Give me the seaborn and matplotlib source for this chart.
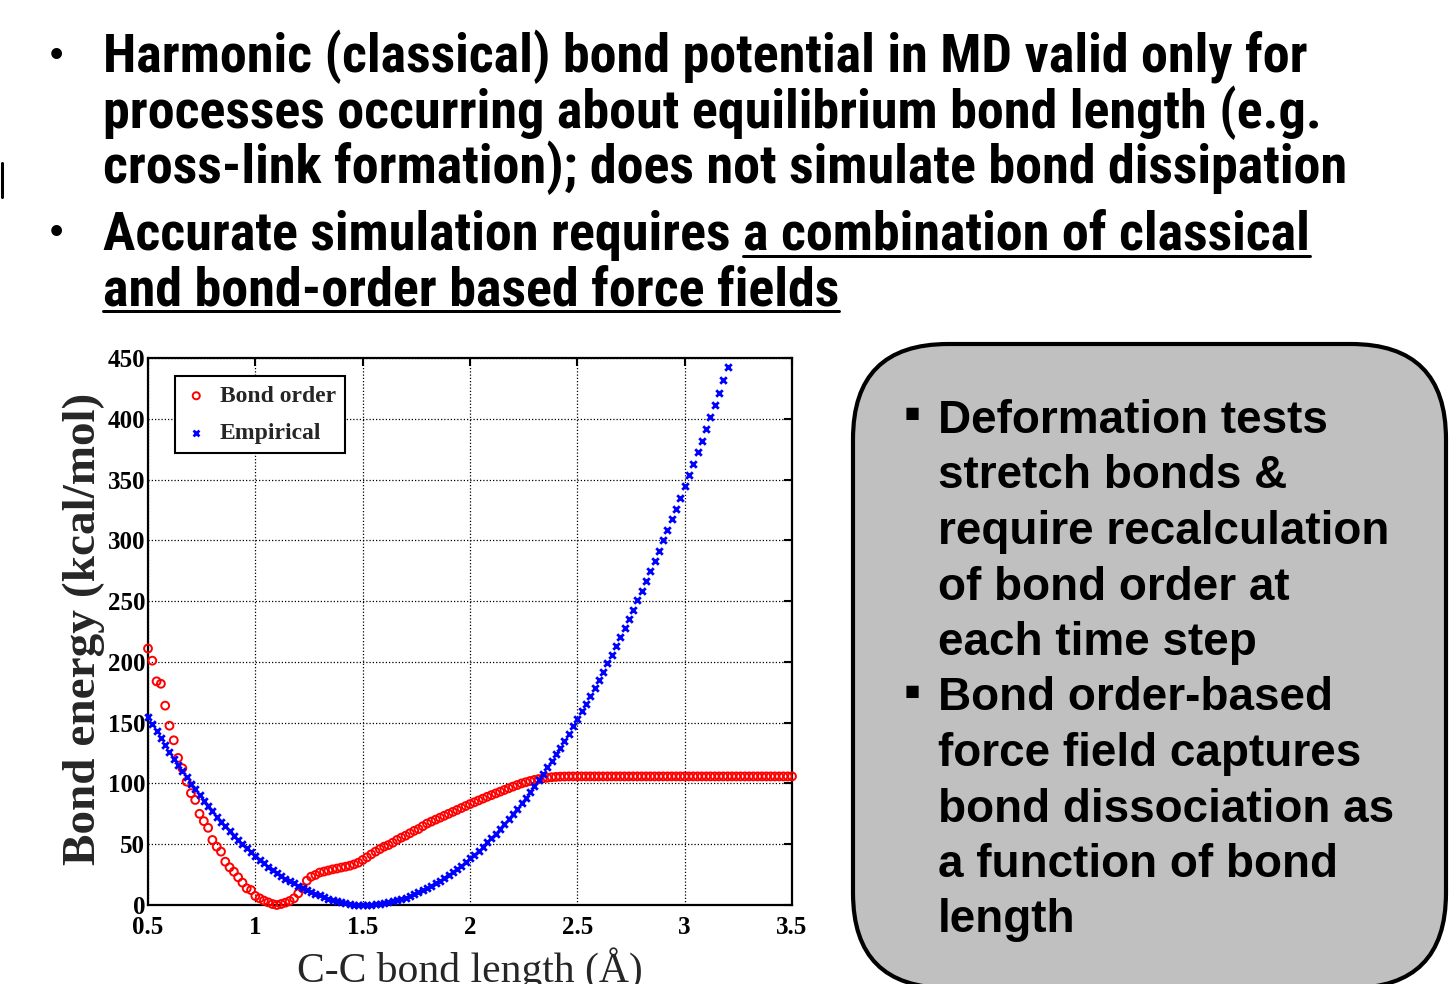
import numpy as np
import pandas as pd
import seaborn as sns
import matplotlib
matplotlib.use("Agg")
import matplotlib.pyplot as plt
from matplotlib import font_manager as fm
from matplotlib.patches import FancyBboxPatch
from matplotlib.lines import Line2D

# ---------------------------------------------------------------------------
# C-C bond energy versus bond length: bond-order (ReaxFF-type) vs harmonic fit
# ---------------------------------------------------------------------------
bond_length_reax = [
    0.50, 0.52, 0.54, 0.56, 0.58, 0.60, 0.62, 0.64, 0.66, 0.68,
    0.70, 0.72, 0.74, 0.76, 0.78, 0.80, 0.82, 0.84, 0.86, 0.88,
    0.90, 0.92, 0.94, 0.96, 0.98, 1.00, 1.02, 1.04, 1.06, 1.08,
    1.10, 1.12, 1.14, 1.16, 1.18, 1.20, 1.22, 1.24, 1.26, 1.28,
    1.30, 1.32, 1.34, 1.36, 1.38, 1.40, 1.42, 1.44, 1.46, 1.48,
    1.50, 1.52, 1.54, 1.56, 1.58, 1.60, 1.62, 1.64, 1.66, 1.68,
    1.70, 1.72, 1.74, 1.76, 1.78, 1.80, 1.82, 1.84, 1.86, 1.88,
    1.90, 1.92, 1.94, 1.96, 1.98, 2.00, 2.02, 2.04, 2.06, 2.08,
    2.10, 2.12, 2.14, 2.16, 2.18, 2.20, 2.22, 2.24, 2.26, 2.28,
    2.30, 2.32, 2.34, 2.36, 2.38, 2.40, 2.42, 2.44, 2.46, 2.48,
    2.50, 2.52, 2.54, 2.56, 2.58, 2.60, 2.62, 2.64, 2.66, 2.68,
    2.70, 2.72, 2.74, 2.76, 2.78, 2.80, 2.82, 2.84, 2.86, 2.88,
    2.90, 2.92, 2.94, 2.96, 2.98, 3.00, 3.02, 3.04, 3.06, 3.08,
    3.10, 3.12, 3.14, 3.16, 3.18, 3.20, 3.22, 3.24, 3.26, 3.28,
    3.30, 3.32, 3.34, 3.36, 3.38, 3.40, 3.42, 3.44, 3.46, 3.48,
    3.50,
]
energy_reax = [
    211.0, 201.0, 184.0, 182.0, 164.0, 147.5, 135.5, 121.0, 112.5, 101.5,
    92.0, 86.4, 75.0, 69.0, 63.5, 53.5, 48.0, 43.9, 35.6, 31.0,
    27.4, 22.8, 18.4, 13.7, 12.3, 7.4, 5.5, 3.6, 2.2, 0.8,
    0.0, 0.8, 1.9, 3.3, 5.5, 9.6, 13.7, 20.0, 23.3, 24.7,
    26.7, 27.5, 28.4, 29.3, 30.0, 30.8, 31.5, 32.3, 33.4, 34.8,
    37.0, 39.2, 41.7, 43.9, 46.0, 48.0, 49.3, 51.2, 53.5, 55.4,
    57.0, 59.0, 61.0, 62.5, 64.8, 67.0, 68.6, 70.2, 71.8, 73.4,
    75.0, 76.6, 78.2, 79.8, 81.4, 83.0, 84.5, 86.0, 87.5, 89.0,
    90.4, 91.8, 93.2, 94.6, 96.0, 97.4, 98.7, 100.0, 101.0, 102.0,
    102.9, 103.6, 104.2, 104.7, 105.1, 105.4, 105.6, 105.7, 105.8, 105.8,
    105.8, 105.8, 105.8, 105.8, 105.8, 105.8, 105.8, 105.8, 105.8, 105.8,
    105.8, 105.8, 105.8, 105.8, 105.8, 105.8, 105.8, 105.8, 105.8, 105.8,
    105.8, 105.8, 105.8, 105.8, 105.8, 105.8, 105.8, 105.8, 105.8, 105.8,
    105.8, 105.8, 105.8, 105.8, 105.8, 105.8, 105.8, 105.8, 105.8, 105.8,
    105.8, 105.8, 105.8, 105.8, 105.8, 105.8, 105.8, 105.8, 105.8, 105.8,
    105.8,
]

bond_length_harm = [
    0.50, 0.52, 0.54, 0.56, 0.58, 0.60, 0.62, 0.64, 0.66, 0.68,
    0.70, 0.72, 0.74, 0.76, 0.78, 0.80, 0.82, 0.84, 0.86, 0.88,
    0.90, 0.92, 0.94, 0.96, 0.98, 1.00, 1.02, 1.04, 1.06, 1.08,
    1.10, 1.12, 1.14, 1.16, 1.18, 1.20, 1.22, 1.24, 1.26, 1.28,
    1.30, 1.32, 1.34, 1.36, 1.38, 1.40, 1.42, 1.44, 1.46, 1.48,
    1.50, 1.52, 1.54, 1.56, 1.58, 1.60, 1.62, 1.64, 1.66, 1.68,
    1.70, 1.72, 1.74, 1.76, 1.78, 1.80, 1.82, 1.84, 1.86, 1.88,
    1.90, 1.92, 1.94, 1.96, 1.98, 2.00, 2.02, 2.04, 2.06, 2.08,
    2.10, 2.12, 2.14, 2.16, 2.18, 2.20, 2.22, 2.24, 2.26, 2.28,
    2.30, 2.32, 2.34, 2.36, 2.38, 2.40, 2.42, 2.44, 2.46, 2.48,
    2.50, 2.52, 2.54, 2.56, 2.58, 2.60, 2.62, 2.64, 2.66, 2.68,
    2.70, 2.72, 2.74, 2.76, 2.78, 2.80, 2.82, 2.84, 2.86, 2.88,
    2.90, 2.92, 2.94, 2.96, 2.98, 3.00, 3.02, 3.04, 3.06, 3.08,
    3.10, 3.12, 3.14, 3.16, 3.18, 3.20,
]
energy_harm = [
    155.0, 148.9, 143.0, 137.2, 131.5, 125.9, 120.5, 115.2, 110.0, 104.9,
    99.9, 95.1, 90.4, 85.8, 81.3, 77.0, 72.7, 68.6, 64.7, 60.8,
    57.1, 53.5, 50.0, 46.6, 43.4, 40.3, 37.3, 34.4, 31.6, 29.0,
    26.5, 24.1, 21.8, 19.7, 17.7, 15.8, 14.0, 12.3, 10.8, 9.4,
    7.9, 6.6, 5.3, 4.1, 3.1, 2.2, 1.4, 0.8, 0.3, 0.1,
    0.0, 0.1, 0.2, 0.6, 1.0, 1.5, 2.2, 3.0, 3.9, 5.0,
    6.1, 7.4, 8.8, 10.3, 12.0, 13.8, 15.7, 17.7, 19.8, 22.1,
    24.5, 27.0, 29.6, 32.4, 35.3, 38.3, 41.4, 44.6, 48.0, 51.5,
    55.1, 58.8, 62.7, 66.6, 70.7, 75.0, 79.3, 83.8, 88.4, 93.1,
    97.9, 102.9, 108.0, 113.2, 118.5, 123.9, 129.5, 135.2, 141.0, 146.9,
    153.0, 159.2, 165.5, 171.9, 178.5, 185.1, 191.9, 198.8, 205.9, 213.0,
    220.3, 227.7, 235.3, 242.9, 250.7, 258.6, 266.6, 274.7, 283.0, 291.4,
    299.9, 308.5, 317.3, 326.1, 335.1, 344.3, 353.5, 362.9, 372.3, 382.0,
    391.7, 401.5, 411.5, 421.6, 431.8, 442.2,
]

series_labels = ["Bond order", "Empirical"]
x_ticks = [0.5, 1.0, 1.5, 2.0, 2.5, 3.0, 3.5]
x_tick_labels = ["0.5", "1", "1.5", "2", "2.5", "3", "3.5"]
y_ticks = [0, 50, 100, 150, 200, 250, 300, 350, 400, 450]
y_tick_labels = ["0", "50", "100", "150", "200", "250", "300", "350", "400", "450"]

heading_lines = [
    "Harmonic (classical) bond potential in MD valid only for",
    "processes occurring about equilibrium bond length (e.g.",
    "cross-link formation); does not simulate bond dissipation",
]
heading2_plain = "Accurate simulation requires"
heading2_under = "a combination of classical"
heading2_line2 = "and bond-order based force fields"

box_lines = [
    "Deformation tests",
    "stretch bonds &",
    "require recalculation",
    "of bond order at",
    "each time step",
    "Bond order-based",
    "force field captures",
    "bond dissociation as",
    "a function of bond",
    "length",
]

# ---------------------------------------------------------------------------
sns.set_theme(style="white")
plt.rcParams["font.family"] = ["Liberation Serif", "DejaVu Serif"]

W, H = 1449, 984
fig = plt.figure(figsize=(W / 100, H / 100), dpi=100)
fig.patch.set_facecolor("white")


def fx(px):
    return px / W


def fy(py):
    return 1 - py / H


ax = fig.add_axes([fx(148), fy(905), (792 - 148) / W, (905 - 358) / H])

df_reax = pd.DataFrame({"r": bond_length_reax, "E": energy_reax})
df_harm = pd.DataFrame({"r": bond_length_harm, "E": energy_harm})

sns.scatterplot(data=df_reax, x="r", y="E", ax=ax, marker="o",
                facecolors="none", edgecolor="#ff0000", linewidth=1.4,
                s=32, label=series_labels[0], clip_on=False, zorder=3)
sns.scatterplot(data=df_harm, x="r", y="E", ax=ax, marker="x",
                color="#0000ff", linewidth=2.0, s=22,
                label=series_labels[1], clip_on=False, zorder=4)

ax.set_xlim(0.5, 3.5)
ax.set_ylim(0, 450)
ax.set_xticks(x_ticks)
ax.set_xticklabels(x_tick_labels)
ax.set_yticks(y_ticks)
ax.set_yticklabels(y_tick_labels)
ax.set_axisbelow(True)
ax.grid(True, color="black", linestyle=(0, (1, 1.6)), linewidth=0.9)
for sp in ax.spines.values():
    sp.set_visible(True)
    sp.set_color("black")
    sp.set_linewidth(1.6)
ax.tick_params(axis="both", direction="in", length=6, width=1.5,
               top=True, right=True, colors="black")
ax.tick_params(axis="x", pad=8)
ax.tick_params(axis="y", pad=2)
for lbl in ax.get_xticklabels() + ax.get_yticklabels():
    lbl.set_fontweight("bold")
    lbl.set_fontsize(18)
    lbl.set_fontfamily(["Liberation Serif", "DejaVu Serif"])

ax.set_xlabel("C-C bond length (Å)", fontsize=30, fontweight="normal",
              va="baseline")
ax.xaxis.set_label_coords(0.5, (905 - 982) / (905 - 358))
ax.set_ylabel("Bond energy (kcal/mol)", fontsize=34, fontweight="bold",
              va="center")
ax.yaxis.set_label_coords((84 - 148) / (792 - 148), 0.505)

leg = ax.legend(loc="upper left",
                bbox_to_anchor=((175 - 148) / 644, (905 - 376) / 547),
                borderaxespad=0, fancybox=False, framealpha=1,
                edgecolor="black", prop={"family": "Liberation Serif",
                                         "weight": "bold", "size": 17},
                handlelength=1.0, handletextpad=0.5, borderpad=0.4,
                labelspacing=0.65, markerscale=0.9)
leg.get_frame().set_linewidth(1.5)

# ---------------------------------------------------------------------------
# Slide text
renderer = fig.canvas.get_renderer()
names = {f.name for f in fm.fontManager.ttflist}
head_family = None
for cand in ["Liberation Sans Narrow", "Roboto Condensed", "Open Sans Condensed"]:
    if cand in names:
        head_family = cand
        break
if head_family is None:
    head_family = "Liberation Sans"


def measure(s, **kw):
    t = fig.text(0, 0, s, **kw)
    w = t.get_window_extent(renderer).width
    t.remove()
    return w


# size the heading so its first line spans the slide's text column
head_size = 33.5
w0 = measure(heading_lines[0], family=head_family, weight="bold", size=head_size)
head_size = min(head_size * 1210 / w0, 39.0)
hkw = dict(family=[head_family, "DejaVu Sans"], weight="bold", size=head_size,
           color="black", ha="left", va="baseline")

x_text = 103
baselines = [72, 128, 183]
for s, b in zip(heading_lines, baselines):
    fig.text(fx(x_text), fy(b), s, **hkw)
line4 = heading2_plain + " " + heading2_under
fig.text(fx(x_text), fy(250), line4, **hkw)
fig.text(fx(x_text), fy(305), heading2_line2, **hkw)

bkw = dict(family=["Liberation Sans", "DejaVu Sans"], weight="bold",
           size=27, color="black", ha="center", va="baseline")
fig.text(fx(56), fy(66), "•", **bkw)
fig.text(fx(56), fy(243), "•", **bkw)

# underlines
mkw = dict(family=head_family, weight="bold", size=head_size)
w_plain = measure(heading2_plain, **mkw)
w_space = measure("a a", **mkw) - measure("aa", **mkw)
w_full = measure(line4, **mkw)
w_l5 = measure(heading2_line2, **mkw)
ul_w = 3.0 * 72 / 100
fig.add_artist(Line2D([fx(x_text + w_plain + w_space), fx(x_text + w_full)],
                      [fy(256), fy(256)], color="black", linewidth=ul_w))
fig.add_artist(Line2D([fx(x_text), fx(x_text + w_l5)],
                      [fy(311), fy(311)], color="black", linewidth=ul_w))

# small mark at the left edge
fig.add_artist(Line2D([fx(1.5), fx(1.5)], [fy(163), fy(197)],
                      color="black", linewidth=2.2))

# ---------------------------------------------------------------------------
# Rounded call-out box
box_l, box_r, box_t, box_b = 853, 1446, 344, 988
box = FancyBboxPatch((box_l / 100, (H - box_b) / 100),
                     (box_r - box_l) / 100, (box_b - box_t) / 100,
                     boxstyle="round,pad=0,rounding_size=0.95",
                     transform=fig.dpi_scale_trans, facecolor="#c0c0c0",
                     edgecolor="black", linewidth=3.0, clip_on=False,
                     zorder=1)
fig.add_artist(box)

tkw = dict(family=["Liberation Sans", "DejaVu Sans"], weight="bold", size=33,
           color="black", ha="left", va="baseline", zorder=2)
for k, s in enumerate(box_lines):
    fig.text(fx(938), fy(433 + 55.5 * k), s, **tkw)
sq = dict(family=["DejaVu Sans"], size=11.5, color="black", ha="center",
          va="center", zorder=2)
fig.text(fx(912), fy(414), "■", **sq)
fig.text(fx(912), fy(414 + 55.5 * 5), "■", **sq)

fig.savefig("out.png", dpi=100)
